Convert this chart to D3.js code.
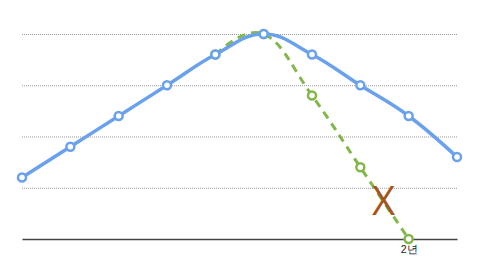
<!DOCTYPE html>
<html lang="ko">
<head>
    <meta charset="UTF-8">
    <script src="https://cdn.jsdelivr.net/npm/d3@7"></script>
    <title>Chart</title>
    <style>
        body { margin: 0; background: #fff; }
        svg { display: block; font-family: "Noto Sans CJK KR", "Noto Sans", sans-serif; }
    </style>
</head>
<body>
    <div id="chart"></div>
    <script>
        // data
        const xLabels = ["", "", "", "", "", "", "", "", "2년", ""];
        const blueValues = [1.2, 1.8, 2.4, 3.0, 3.6, 4.0, 3.6, 3.0, 2.4, 1.6];
        const greenValues = [null, null, null, null, 3.6, 4.0, 2.8, 1.4, 0, null];
        const gridValues = [1, 2, 3, 4];
        const markIndex = 7; // X sits on the middle of this green segment

        const width = 480, height = 270;
        const svg = d3.select("#chart").append("svg")
            .attr("width", width)
            .attr("height", height);

        const x = d3.scalePoint()
            .domain(d3.range(xLabels.length))
            .range([22, 457]);

        const y = d3.scaleLinear()
            .domain([0, 4])
            .range([239, 34]);

        // dotted grid lines
        svg.append("g")
            .selectAll("line")
            .data(gridValues)
            .join("line")
            .attr("x1", x(0))
            .attr("x2", x(xLabels.length - 1))
            .attr("y1", d => y(d) + 0.5)
            .attr("y2", d => y(d) + 0.5)
            .attr("stroke", "#999")
            .attr("stroke-width", 1)
            .attr("stroke-dasharray", "1,1");

        // x axis
        const xAxis = d3.axisBottom(x)
            .tickSize(0)
            .tickPadding(7)
            .tickFormat(i => xLabels[i]);
        const gx = svg.append("g")
            .attr("transform", `translate(0,${y(0)})`)
            .call(xAxis);
        gx.select(".domain").attr("stroke", "#444").attr("stroke-width", 1.5);
        gx.selectAll("text").attr("font-size", 10.5).attr("fill", "#222");

        const line = d3.line()
            .defined(d => d != null)
            .x((d, i) => x(i))
            .y(d => y(d))
            .curve(d3.curveCardinal.tension(-0.2));

        const drawSeries = (values, color, dashed) => {
            svg.append("path")
                .datum(values)
                .attr("fill", "none")
                .attr("stroke", color)
                .attr("stroke-width", dashed ? 3 : 3.5)
                .attr("stroke-dasharray", dashed ? "8,6" : null)
                .attr("d", line);

            svg.append("g")
                .selectAll("circle")
                .data(values.map((v, i) => ({ v, i })).filter(d => d.v != null))
                .join("circle")
                .attr("cx", d => x(d.i))
                .attr("cy", d => y(d.v))
                .attr("r", 4)
                .attr("fill", "#fff")
                .attr("stroke", color)
                .attr("stroke-width", 2.5);
        };

        drawSeries(greenValues, "#82b74b", true);
        drawSeries(blueValues, "#6aa1ec", false);

        // X mark on the green drop
        const mx = (x(markIndex) + x(markIndex + 1)) / 2;
        const my = (y(greenValues[markIndex]) + y(greenValues[markIndex + 1])) / 2;
        svg.append("text")
            .attr("x", mx - 1)
            .attr("y", my)
            .attr("dy", -4)
            .attr("text-anchor", "middle")
            .attr("dominant-baseline", "central")
            .attr("font-family", "'Open Sans', sans-serif")
            .attr("font-weight", 400)
            .attr("font-size", 40)
            .attr("fill", "#a5561c")
            .text("X");
    </script>
</body>
</html>
